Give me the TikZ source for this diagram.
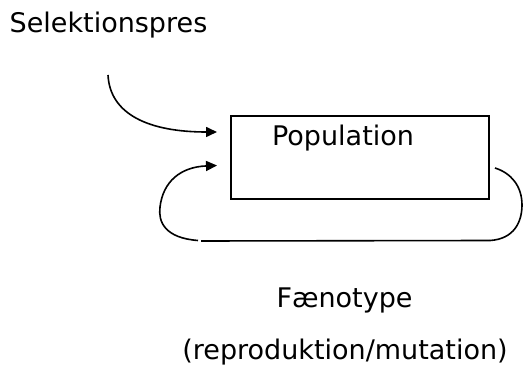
\documentclass[tikz,border=0pt]{standalone}
\usepackage{fontspec}
\setmainfont{DejaVu Sans}
\usetikzlibrary{arrows.meta,calc}
\begin{document}
\begin{tikzpicture}[x=1pt,y=-1pt,
  lbl/.style={inner sep=0pt,anchor=base,font=\fontsize{27}{32}\selectfont},
  conn/.style={line width=1.6pt},
  tip/.style={conn,-{Triangle[length=11pt,width=10pt]}}]
\useasboundingbox (0,0) rectangle (527,371);
\node[lbl] (sel) at (108.5,33) {Selektionspres};
\node[draw,line width=2pt,minimum width=258pt,minimum height=83pt,inner sep=0pt] (box) at (360,157.5) {};
\node[lbl] (pop) at (343,146) {Population};
\node[lbl] (fae) at (344.5,307) {Fænotype};
\node[lbl] (rep) at (345,359) {(reproduktion/mutation)};
\coordinate (a1s) at (108,75);
\coordinate (a1e) at ($(box.west)+(-13,-25.5)$);
\coordinate (lb) at (198,240.5);
\coordinate (rb) at (490,240.5);
\coordinate (rt) at (495,168);
\coordinate (a2e) at ($(box.west)+(-13,8)$);
\draw[tip] (a1s) .. controls (110,115) and (150,132) .. (a1e);
\draw[tip] (lb) .. controls (165,238) and (158,222) .. (160,207) .. controls (163,182) and (180,167) .. (a2e);
\draw[conn] (201,241) -- (rb);
\draw[conn] (rb) .. controls (514,239) and (522,222) .. (522,205) .. controls (522,186) and (511,173) .. (rt);
\end{tikzpicture}
\end{document}
